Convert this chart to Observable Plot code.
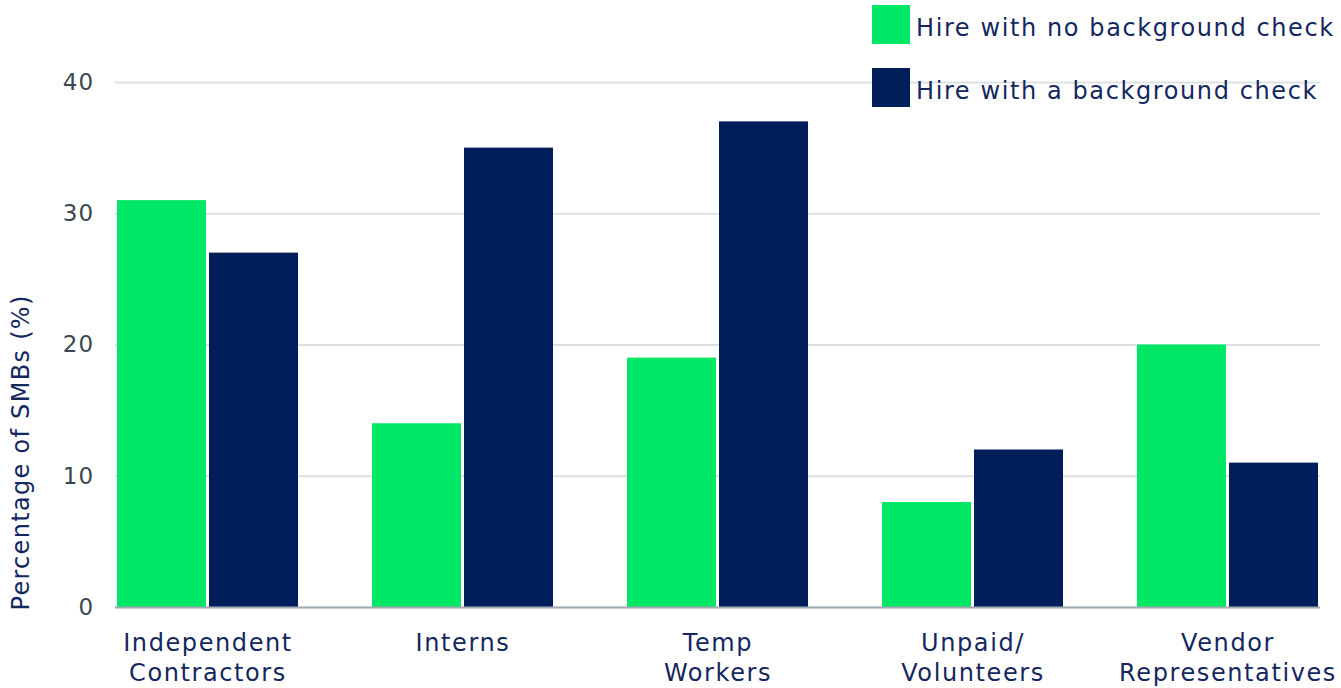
<!DOCTYPE html>
<html>
<head>
<meta charset="utf-8">
<script src="https://cdn.jsdelivr.net/npm/d3@7"></script>
<script src="https://cdn.jsdelivr.net/npm/@observablehq/plot@0.6"></script>
<style>
  html, body { margin: 0; padding: 0; background: #fff; }
  body { font-family: "DejaVu Sans", sans-serif; }
  #wrap { position: relative; width: 1341px; height: 688px; overflow: hidden; }
  #wrap svg { position: absolute; left: 0; top: 0; }
  #legend { position: absolute; left: 872px; top: 5px; }
  .item { display: flex; align-items: center; height: 39px; margin-bottom: 24px; white-space: nowrap; }
  .sw { width: 38px; height: 39px; margin-right: 6px; flex: none; }
  .lab { font-size: 24px; letter-spacing: 1.6px; color: #14275e; padding-top: 6px; }
</style>
</head>
<body>
<div id="wrap">
  <div id="legend"></div>
</div>
<script>
const categories = ["Independent Contractors", "Interns", "Temp Workers", "Unpaid/ Volunteers", "Vendor Representatives"];
const categoryLabels = ["Independent\nContractors", "Interns", "Temp\nWorkers", "Unpaid/\nVolunteers", "Vendor\nRepresentatives"];
const series = ["Hire with no background check", "Hire with a background check"];
const noCheck = [31, 14, 19, 8, 20];
const withCheck = [27, 35, 37, 12, 11];
const yTicks = [0, 10, 20, 30, 40];
const yLabel = "Percentage of SMBs (%)";
const colors = ["#00e865", "#001e5a"];

const data = [];
categories.forEach((c, i) => {
  data.push({category: c, series: series[0], value: noCheck[i]});
  data.push({category: c, series: series[1], value: withCheck[i]});
});
const labelOf = new Map(categories.map((c, i) => [c, categoryLabels[i]]));

const common = {
  width: 1341,
  height: 688,
  marginLeft: 115,
  marginRight: 21,
  marginTop: 82,
  marginBottom: 81,
  style: {fontFamily: "DejaVu Sans, sans-serif", background: "transparent", overflow: "visible"}
};

const wrap = document.getElementById("wrap");
const legendEl = document.getElementById("legend");
function add(svg) { wrap.insertBefore(svg, legendEl); }

// background layer: gridlines, y axis and its title spanning the whole frame
const grid = Plot.plot({
  ...common,
  y: {domain: [0, 40], ticks: yTicks},
  marks: [
    Plot.gridY(yTicks, {stroke: "#dde1e4", strokeOpacity: 1, strokeWidth: 2}),
    Plot.axisY(yTicks, {tickSize: 0, tickPadding: 21, fontSize: 23, color: "#3b4852", label: null}),
    Plot.text([yLabel], {
      text: d => d, frameAnchor: "bottom-left", rotate: -90, textAnchor: "start",
      dx: -87, dy: 3, fontSize: 24, fill: "#14275e"
    })
  ]
});
grid.querySelectorAll("text").forEach(t => t.style.letterSpacing = "1.3px");
add(grid);

// foreground layer: grouped bars and category labels
const chart = Plot.plot({
  ...common,
  fx: {domain: categories, paddingInner: 0.284, paddingOuter: 0, label: null},
  x: {domain: series, paddingInner: 0.03, paddingOuter: 0, axis: null},
  y: {domain: [0, 40], axis: null},
  color: {domain: series, range: colors},
  marks: [
    Plot.barY(data, {fx: "category", x: "series", y: "value", fill: "series"}),
    Plot.axisFx({
      anchor: "bottom", tickSize: 0, tickPadding: 22, fontSize: 24, lineHeight: 1.25,
      color: "#14275e", label: null, tickFormat: d => labelOf.get(d)
    })
  ]
});
chart.querySelectorAll("text").forEach(t => t.style.letterSpacing = "1.6px");
add(chart);

// baseline drawn on top of the bars
const base = Plot.plot({
  ...common,
  y: {domain: [0, 40], axis: null},
  marks: [Plot.ruleY([0], {stroke: "#a3acb4", strokeWidth: 2})]
});
add(base);

series.forEach((s, i) => {
  const item = document.createElement("div");
  item.className = "item";
  const sw = document.createElement("div");
  sw.className = "sw";
  sw.style.background = colors[i];
  const lab = document.createElement("span");
  lab.className = "lab";
  lab.textContent = s;
  item.appendChild(sw);
  item.appendChild(lab);
  legendEl.appendChild(item);
});
</script>
</body>
</html>
